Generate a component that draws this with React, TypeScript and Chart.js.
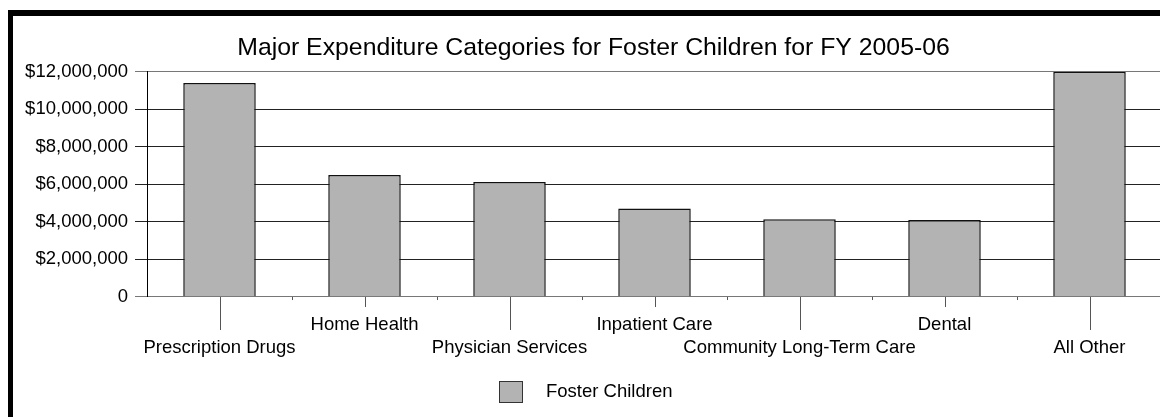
import { useEffect, useRef } from "react";
import { Chart, registerables } from "chart.js";

Chart.register(...registerables);

// Expenditure categories and their FY 2005-06 totals (dollars)
const categories = [
  "Prescription Drugs",
  "Home Health",
  "Physician Services",
  "Inpatient Care",
  "Community Long-Term Care",
  "Dental",
  "All Other",
];
const expenditures = [11410000, 6490000, 6120000, 4710000, 4130000, 4090000, 12000000];

const yTickLabels = [
  "0",
  "$2,000,000",
  "$4,000,000",
  "$6,000,000",
  "$8,000,000",
  "$10,000,000",
  "$12,000,000",
];

const seriesLabel = "Foster Children";
const chartTitle = "Major Expenditure Categories for Foster Children for FY 2005-06";

const FONT = "'Liberation Sans', Arial, Helvetica, sans-serif";
const LABEL_SIZE = 18.5;
const BAR_FILL = "#b3b3b3";
const BAR_EDGE = "#111";

// Staggered category tick marks, boundary ticks and the legend swatch
const axisDecor = {
  id: "axisDecor",
  afterDraw(chart: any) {
    const { ctx, chartArea } = chart;
    const x = chart.scales.x;
    const base = Math.round(chartArea.bottom);
    ctx.save();
    ctx.strokeStyle = "#555";
    ctx.lineWidth = 1;
    for (let i = 0; i < categories.length; i++) {
      const px = Math.round(x.getPixelForValue(i)) + 0.5;
      const len = i % 2 === 0 ? 33 : 10;
      ctx.beginPath();
      ctx.moveTo(px, base);
      ctx.lineTo(px, base + len);
      ctx.stroke();
      if (i < categories.length - 1) {
        const bx =
          Math.round((x.getPixelForValue(i) + x.getPixelForValue(i + 1)) / 2) + 0.5;
        ctx.beginPath();
        ctx.moveTo(bx, base);
        ctx.lineTo(bx, base + 3);
        ctx.stroke();
      }
    }

    // legend
    ctx.font = `${LABEL_SIZE}px ${FONT}`;
    const tw = ctx.measureText(seriesLabel).width;
    const boxW = 24;
    const boxH = 22;
    const gap = 23;
    const group = boxW + gap + tw;
    const left = Math.round(chart.width / 2 - group / 2 - 5);
    const cy = chart.height - 25;
    ctx.fillStyle = BAR_FILL;
    ctx.fillRect(left, cy - boxH / 2, boxW, boxH);
    ctx.strokeStyle = "#333";
    ctx.strokeRect(left + 0.5, cy - boxH / 2 + 0.5, boxW - 1, boxH - 1);
    ctx.fillStyle = "#000";
    ctx.textBaseline = "middle";
    ctx.textAlign = "left";
    ctx.fillText(seriesLabel, left + boxW + gap, cy);
    ctx.restore();
  },
};

export default function App() {
  const canvasRef = useRef<HTMLCanvasElement | null>(null);

  useEffect(() => {
    const canvas = canvasRef.current;
    if (!canvas) return;
    const chart = new Chart(canvas, {
      type: "bar",
      data: {
        labels: categories,
        datasets: [
          {
            label: seriesLabel,
            data: expenditures,
            backgroundColor: BAR_FILL,
            borderColor: BAR_EDGE,
            borderWidth: 1.5,
            barPercentage: 0.5,
            categoryPercentage: 1.0,
          },
        ],
      },
      options: {
        responsive: false,
        animation: false,
        devicePixelRatio: 1,
        layout: { padding: { left: 12, right: 6, top: 0, bottom: 56.3 } },
        plugins: {
          legend: { display: false },
          tooltip: { enabled: false },
          title: {
            display: true,
            text: chartTitle,
            color: "#000",
            font: { family: FONT, size: 24.8, weight: "normal", lineHeight: 1.2 },
            padding: { top: 16.8, bottom: 9.3 },
          },
        },
        scales: {
          x: {
            type: "category",
            grid: { display: false, drawTicks: false },
            border: { display: false },
            afterFit: (s: any) => {
              s.height = 64;
            },
            ticks: {
              autoSkip: false,
              maxRotation: 0,
              minRotation: 0,
              padding: 16.8,
              color: "#000",
              font: { family: FONT, size: LABEL_SIZE, lineHeight: 23 / LABEL_SIZE },
              callback: (_v: any, i: number) =>
                i % 2 === 0 ? ["", categories[i]] : [categories[i]],
            },
          },
          y: {
            min: 0,
            max: 12000000,
            afterFit: (s: any) => {
              s.width = 122;
            },
            border: { display: true, color: "#000", width: 1 },
            grid: {
              color: (c: any) =>
                c.tick && (c.tick.value === 0 || c.tick.value === 12000000) ? "#777" : "#222",
              lineWidth: 1,
              tickLength: 12,
            },
            ticks: {
              stepSize: 2000000,
              padding: 7,
              color: "#000",
              font: { family: FONT, size: LABEL_SIZE },
              callback: (_v: any, i: number) => yTickLabels[i],
            },
          },
        },
      },
      plugins: [axisDecor],
    });
    return () => chart.destroy();
  }, []);

  return (
    <div
      style={{
        position: "fixed",
        left: 0,
        top: 0,
        width: 1160,
        height: 417,
        background: "#fff",
        overflow: "hidden",
      }}
    >
      <div
        style={{
          position: "absolute",
          left: 8,
          top: 10,
          width: 1200,
          height: 500,
          borderLeft: "5px solid #000",
          borderTop: "6px solid #000",
          boxSizing: "border-box",
        }}
      />
      <canvas
        ref={canvasRef}
        width={1155}
        height={401}
        style={{ position: "absolute", left: 13, top: 16, width: 1155, height: 401 }}
      />
    </div>
  );
}
